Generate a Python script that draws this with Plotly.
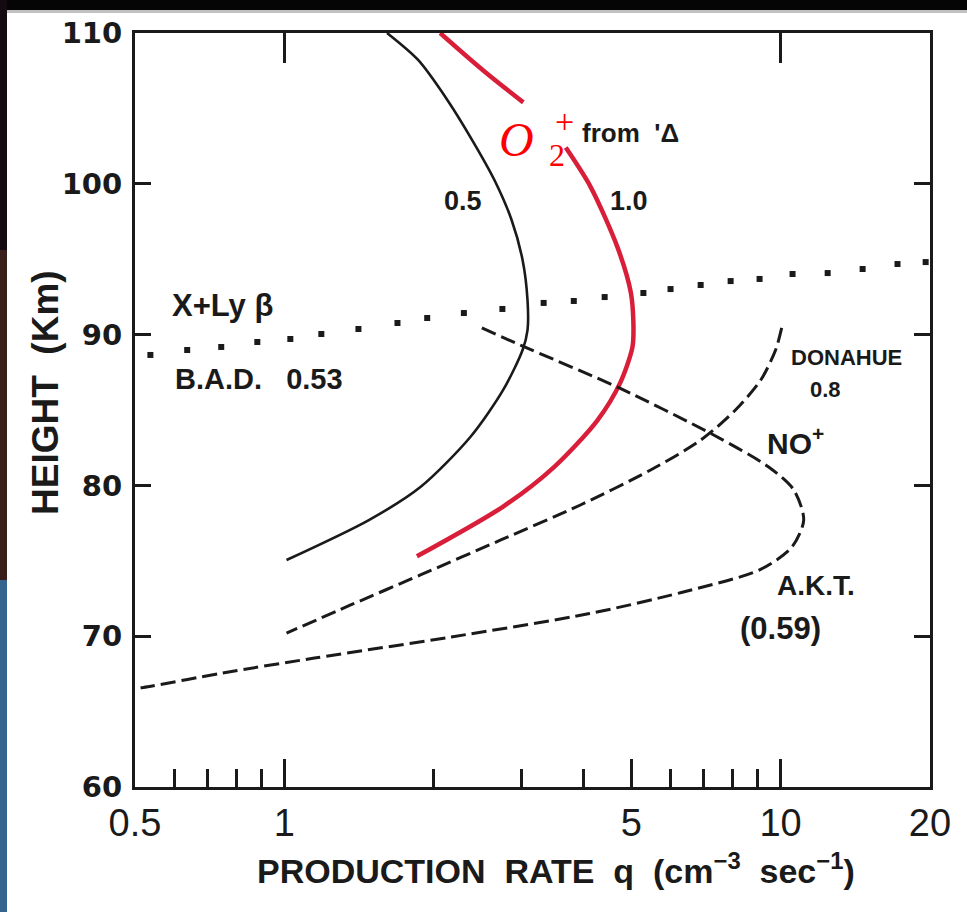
import plotly.graph_objects as go
import math

# ---------------- data ----------------
# O2+ from 1Delta, factor 0.5 (black solid)
half_x = [1.61, 1.86, 2.13, 2.39, 2.65, 2.87, 3.02, 3.09, 3.09, 3.02, 2.76, 2.37, 1.88, 1.48, 1.01]
half_y = [110.0, 108.21, 105.56, 102.90, 100.25, 97.60, 94.95, 92.29, 90.30, 88.98, 86.33, 83.21, 79.89, 77.7, 75.05]

# O2+ from 1Delta, factor 1.0 (red), upper piece above the label, lower piece below it
one_up_x = [2.06, 2.52, 3.03]
one_up_y = [110.0, 107.5, 105.4]
one_lo_x = [3.69, 4.14, 4.69, 4.99, 5.05, 5.03, 4.75, 4.27, 3.49, 2.76, 1.85]
one_lo_y = [102.4, 99.8, 95.8, 92.8, 90.8, 89.2, 86.8, 84.3, 81.2, 78.6, 75.3]

# NO+ A.K.T. (0.59) dashed
akt_x = [2.50, 2.99, 4.73, 7.33, 9.46, 10.63, 11.13, 10.53, 9.07, 6.31, 4.12, 2.17, 1.15, 0.75, 0.52, 0.50]
akt_y = [90.44, 89.3, 86.46, 83.34, 81.22, 79.7, 77.7, 75.9, 74.4, 72.9, 71.5, 69.95, 68.55, 67.56, 66.6, 66.55]

# NO+ DONAHUE 0.8 dashed
don_x = [10.05, 9.77, 9.12, 8.11, 6.90, 5.47, 3.95, 2.73, 1.88, 1.36, 1.01]
don_y = [90.44, 88.98, 86.99, 85.0, 83.0, 81.02, 78.7, 76.38, 74.06, 72.07, 70.2]

# X + Ly beta, B.A.D. 0.53 (dotted)
lyb_x = [0.537, 0.637, 0.746, 0.882, 1.028, 1.187, 1.41, 1.69, 1.94, 2.30, 2.75, 3.33, 3.83,
         4.42, 5.29, 6.00, 6.90, 7.93, 9.07, 10.57, 12.44, 14.63, 17.2, 19.6]
lyb_y = [88.65, 88.98, 89.18, 89.51, 89.71, 90.04, 90.37, 90.77, 91.10, 91.43, 91.70, 92.10, 92.23,
         92.49, 92.76, 93.02, 93.29, 93.55, 93.69, 94.02, 94.08, 94.35, 94.68, 94.81]

# axis ticks
x_major = [0.5, 1, 5, 10, 20]
x_major_text = ["0.5", "1", "5", "10", "20"]
x_minor = [0.6, 0.7, 0.8, 0.9, 2, 3, 4, 6, 7, 8, 9]
x_top = [1, 10]
y_ticks = [60, 70, 80, 90, 100, 110]

# ---------------- figure ----------------
BLACK = "#1a1a1a"
RED = "#d91e3a"
DASH = "15px,6px"

fig = go.Figure()
fig.add_trace(go.Scatter(x=half_x, y=half_y, mode="lines", line=dict(color=BLACK, width=2.6, shape="spline", smoothing=0.8),
                         showlegend=False, hoverinfo="skip"))
fig.add_trace(go.Scatter(x=one_up_x, y=one_up_y, mode="lines", line=dict(color=RED, width=4.5, shape="spline"),
                         showlegend=False, hoverinfo="skip"))
fig.add_trace(go.Scatter(x=one_lo_x, y=one_lo_y, mode="lines", line=dict(color=RED, width=4.5, shape="spline", smoothing=0.8),
                         showlegend=False, hoverinfo="skip"))
fig.add_trace(go.Scatter(x=akt_x, y=akt_y, mode="lines",
                         line=dict(color=BLACK, width=3, dash=DASH, shape="spline", smoothing=0.8),
                         showlegend=False, hoverinfo="skip"))
fig.add_trace(go.Scatter(x=don_x, y=don_y, mode="lines",
                         line=dict(color=BLACK, width=3, dash=DASH, shape="spline", smoothing=0.8),
                         showlegend=False, hoverinfo="skip"))
fig.add_trace(go.Scatter(x=lyb_x, y=lyb_y, mode="markers",
                         marker=dict(color=BLACK, size=6, symbol="square"),
                         showlegend=False, hoverinfo="skip"))
# invisible trace to anchor the top tick axis
fig.add_trace(go.Scatter(x=[1], y=[60], xaxis="x2", mode="markers", marker=dict(opacity=0),
                         showlegend=False, hoverinfo="skip"))

xr = [math.log10(0.5), math.log10(20)]

fig.update_layout(
    width=967, height=912,
    margin=dict(l=135, r=37, t=33, b=125),
    paper_bgcolor="white", plot_bgcolor="white",
    xaxis=dict(type="log", range=xr, showgrid=False, zeroline=False,
               showline=True, linecolor=BLACK, linewidth=3, mirror=True,
               tickmode="array", tickvals=x_major, ticktext=x_major_text,
               ticks="inside", ticklen=28, tickwidth=3, tickcolor=BLACK,
               tickfont=dict(family="Liberation Sans", size=38, color=BLACK),
               ticklabelstandoff=0,
               minor=dict(tickmode="array", tickvals=x_minor, ticks="inside",
                          ticklen=18, tickwidth=3, tickcolor=BLACK, showgrid=False)),
    xaxis2=dict(type="log", range=xr, overlaying="x", side="top", showgrid=False, zeroline=False,
                showline=False, tickmode="array", tickvals=x_top, ticks="inside",
                ticklen=30, tickwidth=3, tickcolor=BLACK, showticklabels=False),
    yaxis=dict(range=[60, 110], showgrid=False, zeroline=False,
               showline=True, linecolor=BLACK, linewidth=3, mirror="ticks",
               tickmode="array", tickvals=y_ticks,
               ticks="inside", ticklen=16, tickwidth=3, tickcolor=BLACK,
               tickfont=dict(family="DejaVu Sans", size=29, color=BLACK, weight="bold"),
               ticklabelstandoff=4),
)

# background slide edges (decorative, outside the chart)
H = 754.0
W = 795.0
def px(xp):
    return (xp - 135) / W
def py(yp):
    return 1 - (yp - 33) / H

fig.add_shape(type="rect", xref="paper", yref="paper", x0=px(0), x1=px(967), y0=py(10), y1=py(0),
              fillcolor="#050505", line=dict(width=0), layer="above")
fig.add_shape(type="rect", xref="paper", yref="paper", x0=px(7), x1=px(967), y0=py(13), y1=py(10),
              fillcolor="#c0c0c0", line=dict(width=0), layer="above")
fig.add_shape(type="rect", xref="paper", yref="paper", x0=px(0), x1=px(7), y0=py(250), y1=py(0),
              fillcolor="#140a12", line=dict(width=0), layer="above")
fig.add_shape(type="rect", xref="paper", yref="paper", x0=px(0), x1=px(7), y0=py(580), y1=py(250),
              fillcolor="#3a1e1a", line=dict(width=0), layer="above")
fig.add_shape(type="rect", xref="paper", yref="paper", x0=px(0), x1=px(7), y0=py(912), y1=py(580),
              fillcolor="#34648e", line=dict(width=0), layer="above")

LAB = dict(family="Liberation Sans", color=BLACK, weight="bold")

def note(text, xp, yp, size, font=None, xanchor="center", **kw):
    f = dict(LAB) if font is None else dict(font)
    f["size"] = size
    fig.add_annotation(text=text, xref="paper", yref="paper", x=px(xp), y=py(yp),
                       showarrow=False, font=f, xanchor=xanchor, yanchor="middle", **kw)

note("X+Ly β", 170, 306, 31, xanchor="left")
note("B.A.D.&nbsp;&nbsp;&nbsp;0.53", 173, 379, 29, xanchor="left")
note("0.5", 463, 201, 27)
note("1.0", 629, 201, 27)
note("from&nbsp;&nbsp;'Δ", 580, 133, 26, xanchor="left")
note("DONAHUE", 846, 357, 22)
note("0.8", 825, 389, 22)
note("NO<sup>+</sup>", 765, 441, 30, xanchor="left")
note("A.K.T.", 816, 585, 28)
note("(0.59)", 780, 628, 31)

REDF = dict(family="Liberation Serif", color="#ff0000", style="italic")
note("O", 516, 140, 48, font=REDF)
note("+", 564, 121, 34, font=dict(family="Liberation Serif", color="#ff0000"))
note("2", 557, 155, 32, font=dict(family="Liberation Serif", color="#ff0000"))

# axis titles
note("HEIGHT&nbsp;&nbsp;(Km)", 45, 393, 37, textangle=-90)
note("PRODUCTION&nbsp;&nbsp;RATE&nbsp;&nbsp;q&nbsp;&nbsp;(cm<sup>−3</sup>&nbsp;&nbsp;sec<sup>−1</sup>)", 556, 868, 34)

fig.write_html("out.html")
